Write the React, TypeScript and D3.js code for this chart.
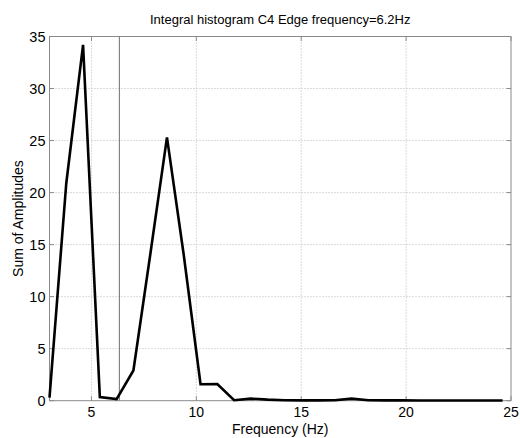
import React from "react";
import * as d3 from "d3";

const titleText = "Integral histogram C4 Edge frequency=6.2Hz";
const xLabel = "Frequency (Hz)";
const yLabel = "Sum of Amplitudes";

const frequencies = [
  3.0, 3.8, 4.6, 5.4, 6.2, 7.0, 7.8, 8.6, 9.4, 10.2, 11.0, 11.8, 12.6, 13.4,
  14.2, 15.0, 15.8, 16.6, 17.4, 18.2, 19.0, 19.8, 20.6, 21.4, 22.2, 23.0, 23.8, 24.6,
];
const amplitudes = [
  0.3, 20.9, 34.2, 0.35, 0.16, 2.9, 14.0, 25.3, 14.0, 1.58, 1.6, 0.05, 0.2, 0.1,
  0.05, 0.03, 0.03, 0.05, 0.2, 0.05, 0.03, 0.03, 0.02, 0.02, 0.02, 0.02, 0.02, 0.02,
];
const edgeLineFreq = 6.33;
const xTicks = [5, 10, 15, 20, 25];
const yTicks = [0, 5, 10, 15, 20, 25, 30, 35];
const xDomain = [3, 25];
const yDomain = [0, 35];

const W = 520;
const H = 438;
const left = 49.5;
const right = 511;
const top = 36.5;
const bottom = 400.7;

export default function App() {
  const x = d3.scaleLinear().domain(xDomain).range([left, right]);
  const y = d3.scaleLinear().domain(yDomain).range([bottom, top]);
  const pts = frequencies.map((f, i) => [f, amplitudes[i]] as [number, number]);
  const line = d3
    .line<[number, number]>()
    .x((d) => x(d[0]))
    .y((d) => y(d[1]));
  const font = "'Liberation Sans', Arial, sans-serif";
  const axisColor = "#8a8a8a";
  const gridColor = "#b8b8b8";
  const tickLen = 4.5;
  return (
    <svg
      width={W}
      height={H}
      style={{ position: "absolute", left: 0, top: 0, background: "#fff" }}
      fontFamily={font}
    >
      <rect x={0} y={0} width={W} height={H} fill="#fff" />
      {xTicks
        .filter((t) => t > xDomain[0] && t < xDomain[1])
        .map((t) => (
          <line
            key={"gx" + t}
            x1={x(t)}
            x2={x(t)}
            y1={top}
            y2={bottom}
            stroke={gridColor}
            strokeWidth={1}
            strokeDasharray="1,2"
          />
        ))}
      {yTicks
        .filter((t) => t > yDomain[0] && t < yDomain[1])
        .map((t) => (
          <line
            key={"gy" + t}
            x1={left}
            x2={right}
            y1={y(t)}
            y2={y(t)}
            stroke={gridColor}
            strokeWidth={1}
            strokeDasharray="1,2"
          />
        ))}
      <line
        x1={x(edgeLineFreq)}
        x2={x(edgeLineFreq)}
        y1={top}
        y2={bottom}
        stroke="#6e6e6e"
        strokeWidth={1}
      />
      <rect
        x={left}
        y={top}
        width={right - left}
        height={bottom - top}
        fill="none"
        stroke={axisColor}
        strokeWidth={1}
      />
      {xTicks.map((t) => (
        <g key={"tx" + t}>
          <line x1={x(t)} x2={x(t)} y1={bottom} y2={bottom - tickLen} stroke={axisColor} />
          <line x1={x(t)} x2={x(t)} y1={top} y2={top + tickLen} stroke={axisColor} />
          <text x={x(t)} y={416.5} fontSize={14} textAnchor="middle" fill="#000">
            {t}
          </text>
        </g>
      ))}
      {yTicks.map((t) => (
        <g key={"ty" + t}>
          <line x1={left} x2={left + tickLen} y1={y(t)} y2={y(t)} stroke={axisColor} />
          <line x1={right} x2={right - tickLen} y1={y(t)} y2={y(t)} stroke={axisColor} />
          <text x={left - 4} y={y(t) + 5} fontSize={14.5} textAnchor="end" fill="#000">
            {t}
          </text>
        </g>
      ))}
      <path
        d={line(pts) || ""}
        fill="none"
        stroke="#000"
        strokeWidth={2.6}
        strokeLinejoin="miter"
      />
      <text x={(left + right) / 2} y={24} fontSize={13} textAnchor="middle" fill="#000">
        {titleText}
      </text>
      <text x={(left + right) / 2} y={434} fontSize={14} textAnchor="middle" fill="#000">
        {xLabel}
      </text>
      <text
        transform={`translate(23, ${(top + bottom) / 2}) rotate(-90)`}
        fontSize={14}
        textAnchor="middle"
        fill="#000"
      >
        {yLabel}
      </text>
    </svg>
  );
}
